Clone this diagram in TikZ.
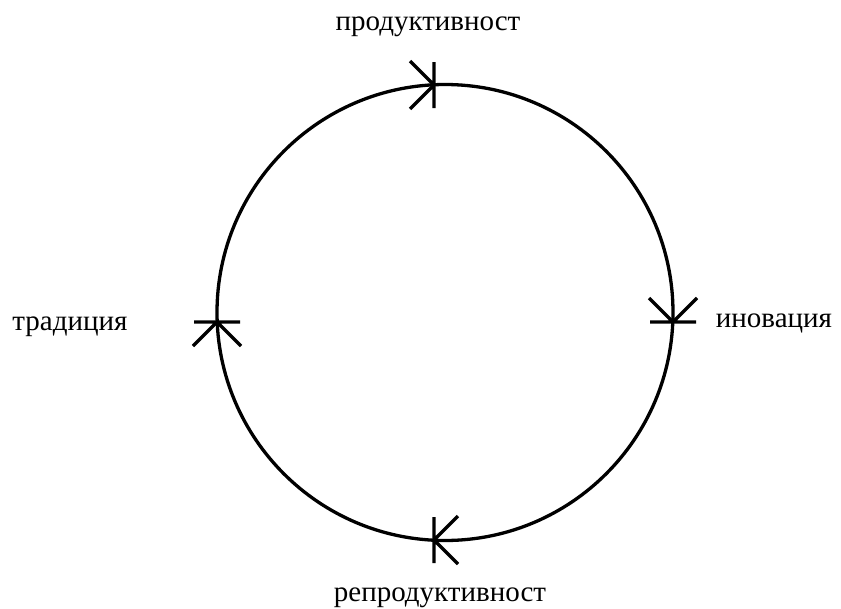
\documentclass[tikz,border=0pt]{standalone}
\usepackage{fontspec}
\setmainfont{Liberation Serif}
\begin{document}
\begin{tikzpicture}[x=1pt,y=-1pt]
		\useasboundingbox (0,0) rectangle (841,608);
		\fontsize{29}{34}\selectfont

		% Cercle
		\draw[line width=3.3pt] (445,312.5) circle (228);

		% Marques (barre + pointe)
		\foreach \px/\py/\r in {434/85/0, 673/322/-90, 434/540/180, 217/322/90}
			\draw[line width=3.3pt,shift={(\px,\py)},rotate=\r] (0,-23) -- (0,23) (-24,-24) -- (0,0) -- (-24,24);

		% Labels
		\node (prod) at (428,27) {продуктивност};
		\node (inov) at (774,323) {иновация};
		\node (repr) at (440,598) {репродуктивност};
		\node (trad) at (70,327) {традиция};

\end{tikzpicture}
\end{document}
